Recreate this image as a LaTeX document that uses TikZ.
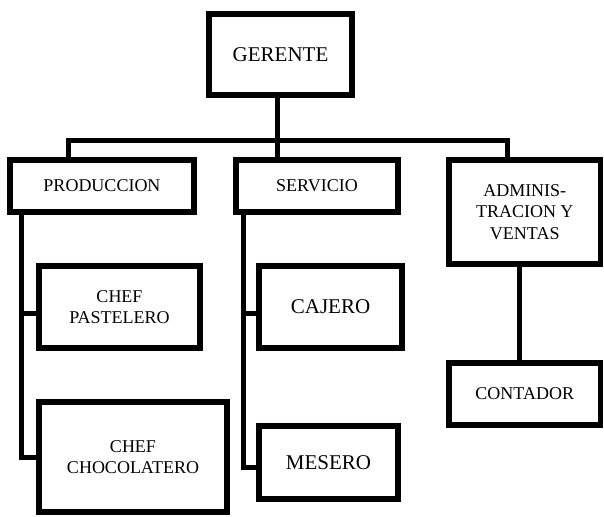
\documentclass[tikz,border=0pt]{standalone}
\usepackage{fontspec}
\setmainfont{Liberation Serif}
\usepackage{xcolor}
\usepackage{tikz}

\begin{document}
\begin{tikzpicture}[
		x=1pt, y=-1pt,
		box/.style={
			rectangle,
			draw=black,
			line width=5.5pt,
			align=center,
			inner sep=0pt,
			fill=white,
			font=\fontsize{18}{21.5}\selectfont
		},
		bigtext/.style={
			font=\fontsize{21}{25}\selectfont
		},
		link/.style={
			line width=5pt
		}
	]
	\useasboundingbox (0,0) rectangle (604,516);
	% Nodes
	\node[box,bigtext,minimum width=143pt,minimum height=81pt] (gerente) at (280.5,54.5) {GERENTE};
	
	\node[box,minimum width=184pt,minimum height=52pt] (produccion) at (102,186) {PRODUCCION};
	\node[box,minimum width=162pt,minimum height=52pt] (servicio) at (317,186) {SERVICIO};
	\node[box,minimum width=151.5pt,minimum height=104pt] (admin) at (524.75,212) {ADMINIS-\\TRACION Y\\VENTAS};
	
	\node[box,minimum width=161pt,minimum height=82pt] (chefpas) at (119.5,307) {CHEF\\PASTELERO};
	\node[box,minimum width=188pt,minimum height=110pt] (chefchoc) at (133,457) {CHEF\\CHOCOLATERO};
	\node[box,bigtext,minimum width=143pt,minimum height=82pt] (cajero) at (330.5,307) {CAJERO};
	\node[box,bigtext,minimum width=139pt,minimum height=73pt] (mesero) at (328.5,462.5) {MESERO};
	\node[box,minimum width=151.5pt,minimum height=62pt] (contador) at (524.75,394) {CONTADOR};
	
	% Connectors
	\coordinate (bar) at (277,140);
	\coordinate (prodline) at ([xshift=14.25pt]produccion.south west);
	\coordinate (servline) at ([xshift=9.75pt]servicio.south west);
	\coordinate (pasin) at ([yshift=-6pt]chefpas.west);
	\coordinate (cajin) at ([yshift=-6pt]cajero.west);
	\coordinate (mesin) at ([yshift=-4.5pt]mesero.west);
	
	\draw[link] (gerente.south -| bar) -- (servicio.north -| bar);
	\draw[link] ([xshift=-34pt]produccion.north) |- (bar) -| ([xshift=-17.75pt]admin.north);
	
	\draw[link] (prodline) |- (chefchoc.west);
	\draw[link] (prodline |- pasin) -- (pasin);
	
	\draw[link] (servline) |- (mesin);
	\draw[link] (servline |- cajin) -- (cajin);
	
	\draw[link] ([xshift=-5.75pt]admin.south) -- ([xshift=-5.75pt]contador.north);
\end{tikzpicture}
\end{document}
